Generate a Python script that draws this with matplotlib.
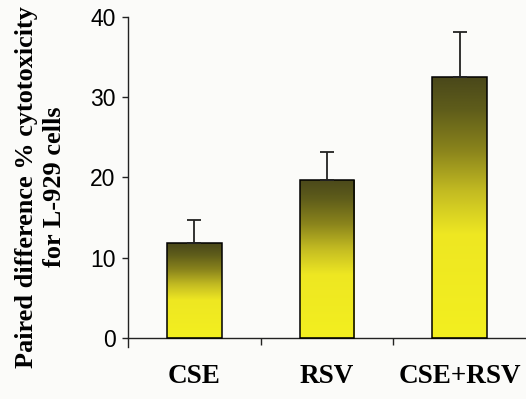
import numpy as np
import matplotlib
matplotlib.use("Agg")
import matplotlib.pyplot as plt
from matplotlib.colors import LinearSegmentedColormap

categories = ["CSE", "RSV", "CSE+RSV"]
values = [11.8, 19.7, 32.5]
errors = [2.9, 3.5, 5.6]
yticks = [0, 10, 20, 30, 40]
ylabel = "Paired difference % cytotoxicity\nfor L-929 cells"

bg = "#fbfbf9"
fig = plt.figure(figsize=(5.26, 3.99), dpi=100, facecolor=bg)
ax = fig.add_axes([0.2433, 0.1308, 0.7567, 0.8266])
ax.set_facecolor(bg)

x = np.arange(len(categories))
bars = ax.bar(x, values, width=0.41, color="none", edgecolor="black",
              linewidth=1.1, zorder=3)

cmap = LinearSegmentedColormap.from_list(
    "olive_yellow",
    [(0.0, "#f3ef1f"), (0.40, "#eee722"), (0.56, "#c4bc22"),
     (0.72, "#8a841c"), (0.88, "#5e5c1a"), (1.0, "#4a481a")])
grad = np.linspace(0, 1, 256).reshape(-1, 1)
for b in bars:
    x0, y0 = b.get_x(), b.get_y()
    w, h = b.get_width(), b.get_height()
    im = ax.imshow(grad, cmap=cmap, origin="lower", aspect="auto",
                   extent=[x0, x0 + w, y0, y0 + h], zorder=2,
                   interpolation="bilinear")
    im.set_clip_path(b)

ax.errorbar(x, values, yerr=[np.zeros(len(errors)), errors], fmt="none",
            ecolor="#222222", elinewidth=1.3, capsize=4.7, capthick=1.3,
            zorder=4)

ax.set_xlim(-0.5, 2.5)
ax.set_ylim(-1.1, 40)
ax.spines["top"].set_visible(False)
ax.spines["right"].set_visible(False)
ax.spines["bottom"].set_position(("data", 0))
for s in ("left", "bottom"):
    ax.spines[s].set_linewidth(1.0)
    ax.spines[s].set_color("#222222")

ax.set_yticks(yticks)
ax.set_yticklabels([str(t) for t in yticks], fontfamily="Liberation Sans",
                   fontsize=16.5)
ax.tick_params(axis="y", direction="out", length=4, width=1, pad=5,
               color="#222222")

ax.set_xticks([0.5, 1.5])
ax.set_xticklabels(["", ""])
ax.set_xticks(x, minor=True)
ax.set_xticklabels(categories, minor=True, fontfamily="Liberation Serif",
                   fontweight="bold", fontsize=19.5)
ax.tick_params(axis="x", which="major", direction="out", length=5, width=1,
               color="#222222")
ax.tick_params(axis="x", which="minor", length=0, pad=19)

fig.text(0.077, 0.531, ylabel, rotation=90, ha="center", va="center",
         multialignment="center", fontfamily="Liberation Serif",
         fontweight="bold", fontsize=18.9, linespacing=1.32)

fig.savefig("out.png", dpi=100, facecolor=bg)
